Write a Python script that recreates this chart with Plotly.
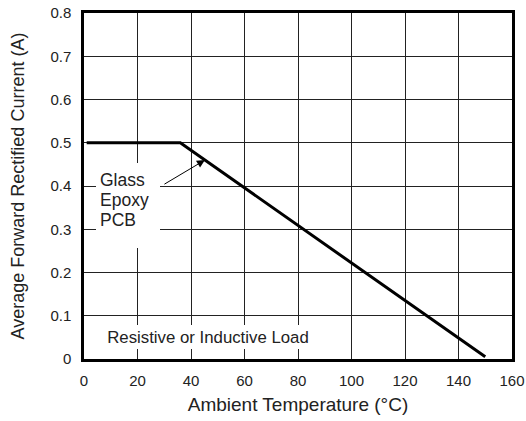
import plotly.graph_objects as go

temp_c = [1, 36, 150]
current_a = [0.5, 0.5, 0.005]
x_ticks = [0, 20, 40, 60, 80, 100, 120, 140, 160]
y_ticks = [0, 0.1, 0.2, 0.3, 0.4, 0.5, 0.6, 0.7, 0.8]
y_tick_labels = ["0", "0.1", "0.2", "0.3", "0.4", "0.5", "0.6", "0.7", "0.8"]
pcb_label_lines = ["Glass", "Epoxy", "PCB"]
pcb_label_y = [0.414, 0.368, 0.322]

FONT = "Liberation Sans, Arial, Helvetica, sans-serif"
TXT = "#222222"

fig = go.Figure()
fig.add_trace(go.Scatter(x=temp_c, y=current_a, mode="lines",
                         line=dict(color="black", width=3), showlegend=False,
                         hoverinfo="skip"))

fig.update_layout(
    width=526, height=421,
    margin=dict(l=84, r=14, t=13, b=62, autoexpand=False),
    paper_bgcolor="white", plot_bgcolor="white",
    font=dict(family=FONT, size=15, color=TXT),
    xaxis=dict(range=[0, 160], tickvals=x_ticks, ticktext=[str(v) for v in x_ticks],
               showgrid=True, gridcolor="#222222", gridwidth=1.3,
               showline=True, linecolor="black", linewidth=2.5, mirror=True,
               ticks="outside", ticklen=6, tickcolor="rgba(0,0,0,0)", zeroline=False,
               automargin=False,
               title=dict(text="Ambient Temperature (°C)", standoff=10,
                          font=dict(size=19, color=TXT)),
               tickfont=dict(size=15, color=TXT)),
    yaxis=dict(range=[0, 0.8], tickvals=y_ticks, ticktext=y_tick_labels,
               showgrid=True, gridcolor="#222222", gridwidth=1.3,
               showline=True, linecolor="black", linewidth=2.5, mirror=True,
               ticks="outside", ticklen=7, tickcolor="rgba(0,0,0,0)", zeroline=False,
               automargin=False,
               title=dict(text="Average Forward Rectified Current (A)", standoff=22,
                          font=dict(size=18, color=TXT)),
               tickfont=dict(size=15, color=TXT)),
)

# white background box behind the Glass Epoxy PCB label
fig.add_annotation(x=16.4, y=0.257, xref="x", yref="y", yanchor="bottom",
                   text=" ", showarrow=False, width=64, height=85, borderpad=0,
                   bgcolor="white", borderwidth=0, xanchor="center")
# Glass Epoxy PCB label, one line at a time
for line_text, line_y in zip(pcb_label_lines, pcb_label_y):
    fig.add_annotation(x=5.3, y=line_y, xref="x", yref="y",
                       text=line_text, showarrow=False,
                       align="left", xanchor="left", yanchor="middle",
                       font=dict(size=17.5, color=TXT))
# arrow
fig.add_annotation(x=45.2, y=0.46, xref="x", yref="y", text="",
                   showarrow=True, ax=-42, ay=25, arrowhead=2,
                   arrowsize=1.6, arrowwidth=1, arrowcolor="black")
# Resistive load label
fig.add_annotation(x=46.4, y=0.051, xref="x", yref="y",
                   text="Resistive or Inductive Load", showarrow=False,
                   bgcolor="white", borderpad=4, borderwidth=0,
                   width=204, height=16,
                   xanchor="center", yanchor="middle",
                   font=dict(size=16.8, color=TXT))

fig.write_html("out.html", config={"displayModeBar": False},
               post_script="document.body.style.margin='0';document.body.style.padding='0';")
